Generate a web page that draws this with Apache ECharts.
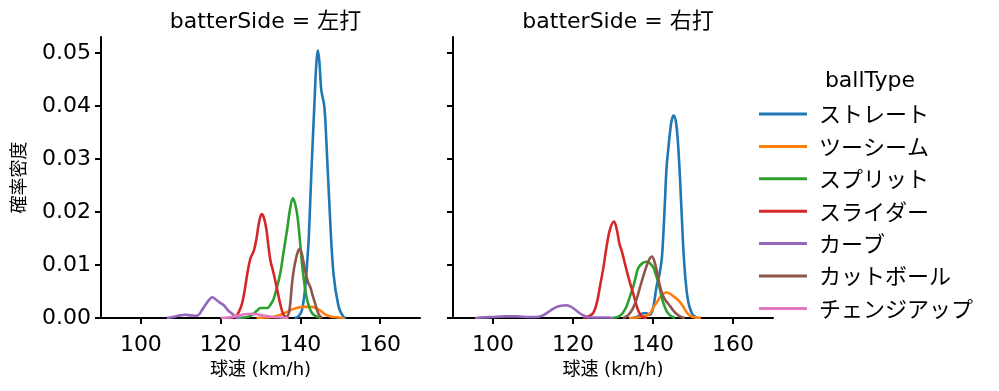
<!DOCTYPE html>
<html><head><meta charset="utf-8">
<script src="https://cdn.jsdelivr.net/npm/echarts@6/dist/echarts.min.js"></script>
<style>html,body{margin:0;padding:0;background:#fff}#c{width:999px;height:391px}</style>
</head><body><div id="c"></div>
<script>
const ballTypes = ['ストレート','ツーシーム','スプリット','スライダー','カーブ','カットボール','チェンジアップ'];
const colors = ['#1f77b4','#ff7f0e','#2ca02c','#d62728','#9467bd','#8c564b','#e377c2'];
const panelTitles = ['batterSide = 左打','batterSide = 右打'];
const xTicks = [100,120,140,160];
const yTicks = [0,0.01,0.02,0.03,0.04,0.05];

// 左打
const leftStraight = [[138.5,0],[139.5,0.0003],[140.4,0.0015],[141.25,0.006],[141.8,0.0116],[142.1,0.015],[142.75,0.0273],[143.5,0.04],[144.0,0.048],[144.4,0.0505],[144.8,0.048],[145.25,0.043],[146,0.0399],[146.5,0.0336],[147.3,0.021],[148.3,0.0084],[149.6,0.0021],[150.8,0.0002],[151.5,0]];
const leftTwoSeam = [[129,0],[131,0.0001],[133,0.0002],[135,0.0006],[137,0.0013],[139,0.0019],[141,0.0021],[143,0.0021],[144,0.0018],[145,0.0014],[146,0.0008],[147.5,0.0003],[149.5,0.0001],[151,0]];
const leftSplit = [[124,0],[126,0.0001],[127.5,0.0004],[129,0.0013],[130,0.0019],[131,0.0019],[131.8,0.0019],[132.5,0.0025],[133.3,0.0036],[134.2,0.006],[135,0.0086],[135.8,0.0125],[136.7,0.0168],[137.4,0.0205],[138.1,0.0226],[138.7,0.0215],[139.3,0.019],[139.9,0.0145],[140.4,0.0103],[141,0.0065],[141.7,0.0034],[142.5,0.0015],[143.3,0.0006],[145,0]];
const leftSlider = [[122,0],[123.75,0.0003],[124.6,0.0012],[125.4,0.0028],[126.1,0.0055],[126.7,0.0084],[127.5,0.0113],[128.3,0.0126],[129,0.015],[129.6,0.0179],[130.3,0.0196],[130.9,0.0188],[131.5,0.0166],[132,0.0135],[132.5,0.0108],[133.3,0.0084],[134.2,0.0053],[135,0.0025],[135.8,0.0006],[137,0]];
const leftCurve = [[106.5,0],[108,0.0002],[110,0.0005],[111,0.0006],[112.5,0.0005],[113.8,0.0004],[114.6,0.0007],[115.5,0.0017],[116.3,0.0026],[117.2,0.0035],[117.9,0.0039],[118.8,0.0035],[119.8,0.0029],[120.8,0.0024],[121.8,0.0015],[122.9,0.0008],[124,0.0001],[125,0]];
const leftCutter = [[135.5,0],[136.5,0.0002],[137.1,0.0009],[137.5,0.003],[137.9,0.0065],[138.4,0.0093],[138.9,0.0112],[139.4,0.0126],[139.8,0.013],[140.3,0.0123],[140.8,0.0105],[141.3,0.0085],[142,0.0066],[142.5,0.0058],[143.1,0.0042],[143.75,0.0026],[144.6,0.0007],[145.5,0]];
const leftChangeup = [[120,0],[122,0.0001],[124,0.0004],[126,0.0007],[127.5,0.0008],[129,0.0007],[131,0.0004],[133,0.0002],[135,0.0001],[137,0]];

// 右打
const rightStraight = [[135,0],[136.5,0.0004],[137.5,0.0009],[138.3,0.0009],[139.2,0.0006],[140,0.0018],[140.9,0.006],[141.6,0.0082],[142.2,0.0112],[142.6,0.016],[143,0.0223],[143.4,0.0285],[143.8,0.0317],[144.25,0.035],[144.7,0.0374],[145.2,0.0382],[145.9,0.0361],[146.6,0.0285],[147.2,0.0191],[147.75,0.011],[148.6,0.004],[149.7,0.0009],[151,0]];
const rightTwoSeam = [[134,0],[136,0.0001],[138,0.0004],[139.2,0.0008],[140.1,0.002],[141,0.003],[141.75,0.0039],[142.5,0.0045],[143.3,0.0048],[144.2,0.0046],[145.1,0.0041],[146,0.0036],[146.75,0.003],[147.5,0.0022],[148.4,0.0011],[149.3,0.0004],[150.5,0.0001],[152,0]];
const rightSplit = [[130,0],[131.5,0.0003],[132.5,0.001],[133.4,0.0022],[134.2,0.004],[135.1,0.006],[135.7,0.0078],[136.3,0.0094],[137.3,0.0103],[138.4,0.0106],[139.3,0.0103],[140.1,0.0095],[140.7,0.0082],[141.3,0.0068],[142,0.0045],[142.6,0.0028],[143.4,0.0013],[144.25,0.0005],[145.5,0]];
const rightSlider = [[122.5,0],[123.6,0.0002],[125,0.0009],[126,0.003],[126.75,0.006],[127.6,0.0095],[128.4,0.0135],[129.25,0.0167],[130.25,0.0182],[131,0.0165],[131.6,0.014],[132.2,0.0126],[133.4,0.009],[134.3,0.0065],[135.1,0.0045],[136.25,0.0015],[137.2,0.0003],[138.5,0]];
const rightCurve = [[95.5,0],[97,0.0001],[100,0.0002],[103,0.0003],[106,0.0003],[109,0.0002],[111,0.0002],[112.5,0.0005],[113.8,0.0011],[115,0.0017],[116,0.0021],[117,0.0023],[118.2,0.0024],[119.3,0.0022],[120.5,0.0016],[121.5,0.001],[122.6,0.0005],[124,0.0001],[126,0.0001],[129,0.0001],[130,0]];
const rightCutter = [[132.5,0],[133.4,0.0003],[134.3,0.001],[135.1,0.002],[136,0.0038],[136.75,0.0058],[137.5,0.0077],[138.3,0.0096],[139.1,0.0111],[139.7,0.0116],[140.3,0.0108],[140.9,0.009],[141.5,0.0068],[142.2,0.0048],[142.9,0.0036],[143.8,0.0027],[144.5,0.002],[145.2,0.0013],[146,0.0007],[147,0.0002],[148,0]];
const rightChangeup = [];

const leftData = [leftStraight,leftTwoSeam,leftSplit,leftSlider,leftCurve,leftCutter,leftChangeup];
const rightData = [rightStraight,rightTwoSeam,rightSplit,rightSlider,rightCurve,rightCutter,rightChangeup];

const FONT = '"DejaVu Sans", "Noto Sans CJK JP", sans-serif';
const JFONT = '"Noto Sans CJK JP", sans-serif';
const chart = echarts.init(document.getElementById('c'), null, {renderer:'canvas'});

function xAxis(i){
  return {type:'value', gridIndex:i, min:90, max:170,
    name:'球速 (km/h)', nameLocation:'middle', nameGap:43,
    nameTextStyle:{fontFamily:FONT,fontSize:18,color:'#000'},
    axisLine:{lineStyle:{color:'#000',width:2}},
    axisTick:{show:true,length:6,lineStyle:{color:'#000',width:2},customValues:xTicks},
    axisLabel:{fontFamily:FONT,fontSize:22,color:'#000',margin:16,customValues:xTicks},
    splitLine:{show:false}};
}
function yAxis(i){
  return {type:'value', gridIndex:i, min:0, max:0.053, interval:0.01,
    name: i===0 ? '確率密度' : '', nameLocation:'middle', nameGap:74,
    nameTextStyle:{fontFamily:JFONT,fontSize:18,color:'#000'},
    axisLine:{show:true,lineStyle:{color:'#000',width:2}},
    axisTick:{show:true,length:6,lineStyle:{color:'#000',width:2},customValues:yTicks},
    axisLabel:{show:i===0,fontFamily:FONT,fontSize:22,color:'#000',margin:10,
      customValues:yTicks, formatter:v=>v.toFixed(2)},
    splitLine:{show:false}};
}

const series = [];
[leftData,rightData].forEach((arr,gi)=>{
  arr.forEach((d,k)=>{
    series.push({type:'line', name:ballTypes[k], xAxisIndex:gi, yAxisIndex:gi,
      data:d, smooth:0.35, showSymbol:false, symbol:'none',
      lineStyle:{color:colors[k],width:2.6}, itemStyle:{color:colors[k]},
      emphasis:{disabled:true}, silent:true, animation:false, clip:true});
  });
});

chart.setOption({
  animation:false,
  backgroundColor:'#fff',
  title:[
    {text:panelTitles[0], left:260.5, top:6, textAlign:'center', textStyle:{fontFamily:FONT,fontSize:22,fontWeight:'normal',color:'#000'}},
    {text:panelTitles[1], left:613, top:6, textAlign:'center', textStyle:{fontFamily:FONT,fontSize:22,fontWeight:'normal',color:'#000'}},
    {text:'ballType', left:865, top:65, textAlign:'center', textStyle:{fontFamily:FONT,fontSize:22,fontWeight:'normal',color:'#000'}}
  ],
  grid:[
    {left:101, top:37, width:319, height:281},
    {left:453, top:37, width:320, height:281}
  ],
  xAxis:[xAxis(0),xAxis(1)],
  yAxis:[yAxis(0),yAxis(1)],
  legend:{orient:'vertical', left:754, top:98, icon:'rect', itemWidth:48, itemHeight:3,
    itemGap:10.4, data:ballTypes,
    textStyle:{fontFamily:JFONT,fontSize:22,color:'#000',lineHeight:22,padding:[0,0,0,7]},
    selectedMode:false},
  series:series
});
</script></body></html>
